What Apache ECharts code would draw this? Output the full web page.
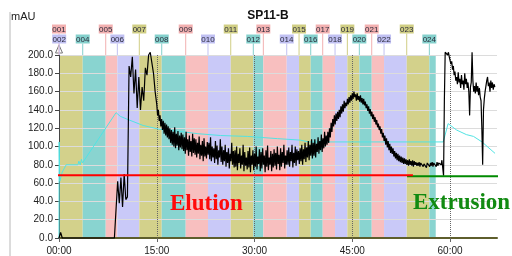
<!DOCTYPE html>
<html><head><meta charset="utf-8">
<script src="https://cdn.jsdelivr.net/npm/echarts@6/dist/echarts.min.js"></script>
<style>html,body{margin:0;padding:0;background:#fff}#c{width:512px;height:256px}</style>
</head><body><div id="c"></div>
<script>
// ---- data ----
const titleText = 'SP11-B';
const yUnit = 'mAU';
const fractionNames = ['001','002','003','004','005','006','007','008','009','010','011','012',
  '013','014','015','016','017','018','019','020','021','022','023','024'];
const fractionStarts = [0, 0.03, 0.06, 3.64, 7.17, 8.95, 12.32, 15.76, 19.44, 22.86, 26.35, 29.81,
  31.35, 34.94, 36.83, 38.62, 40.46, 42.35, 44.24, 46.08, 47.98, 49.87, 53.35, 56.82];
const fractionEnd = 57.80;
// UV trace, part A: 0:00 - 14:45, one reading every 0.25 min
const uvAStart = 0, uvAStep = 0.25;
const uvAValues = [
  0,6,0,0,0,0,0,0,0,0,0,0,0,0,0,0,0,0,0,0,
  0,0,0,0,0,0,0,0,0,0,0,0,0,0,0,0,62,38,66,34,
  70,42,45,188,176,198,158,184,142,176,140,165,150,186,178,200,203,203,180,160
];
// UV trace, part B: 15:00 - 58:52.5, one reading every 0.125 min
const uvBStart = 15, uvBStep = 0.125;
const uvBValues = [
  146,134,140,128,134,122,130,118,128,114,126,112,124,110,122,108,
  120,104,118,102,116,100,121,98,114,101,117,96,112,99,115,97,
  113,95,110,92,116,96,108,90,112,94,106,89,114,93,109,91,
  108,88,104,92,111,86,102,90,106,84,109,89,100,87,105,91,
  104,86,110,84,100,88,98,82,106,86,101,80,96,88,108,83,
  100,80,96,84,102,78,94,82,98,76,92,84,104,80,95,77,
  96,78,100,74,92,82,98,76,90,80,102,73,94,79,88,75,
  95,77,99,72,90,80,96,74,92,78,100,75,89,81,97,73,
  94,76,98,80,90,72,96,78,101,74,88,80,95,73,92,77,
  97,79,93,75,100,81,91,74,98,78,94,82,102,76,90,80,
  96,80,99,78,94,84,102,77,93,82,100,79,97,85,95,81,
  98,84,102,80,97,86,104,83,99,88,106,85,102,90,108,87,
  104,90,108,88,103,94,110,92,106,96,113,94,109,98,116,100,
  112,102,116,104,120,110,126,116,130,122,134,124,136,128,138,130,
  140,132,144,136,146,138,150,142,148,144,152,146,154,148,156,150,
  158,152,160,154,157,150,158,151,155,149,156,148,153,146,152,145,
  149,142,146,139,144,136,141,133,138,130,135,127,132,124,129,121,
  125,118,122,114,119,110,115,106,112,102,109,99,106,96,103,93,
  100,92,98,89,95,87,93,85,92,84,90,83,89,82,88,81,
  87,81,86,80,85,79,86,80,84,79,85,78,84,80,83,79,
  82,79,83,78,82,80,84,78,81,79,83,77,82,80,81,78,
  82,79,83,78,82,80,81,78,83,79,82,80,84,80,85,86
];
// UV trace, part C: 59:00 - 66:52.5 (extrusion), one reading every 0.125 min
const uvCStart = 59, uvCStep = 0.125;
const uvCValues = [
  68,150,203,203,203,200,203,198,
  196,190,193,184,188,178,182,172,
  176,168,181,170,174,164,178,168,
  172,162,180,168,174,164,170,160,
  134,165,170,203,172,160,166,158,
  170,160,166,156,164,154,150,120,
  80,140,152,160,166,172,176,166,
  170,160,172,164,170,162,168,165
];
const condTimes = [0, 0.02, 0.12, 0.5, 1.1, 2.9, 3.05, 3.25, 3.45, 3.6, 8.75, 9.4, 10.4, 12.9, 15.3,
  19.1, 21.3, 24.8, 28.9, 33.5, 37.0, 38.3, 58.95, 59.7, 61.0, 62.5, 63.6, 64.9, 66.9];
const condValues = [0, 105, 62, 72, 80, 80, 84, 80, 86, 82, 137, 133, 130, 123, 119,
  116, 114, 112, 111, 108.6, 107, 105, 105, 125, 118, 113, 111, 105, 92.5];
const elutionTimes = [-1.65, 54.3];
const elutionValues = [68.5, 68.5];
const extrusionTimes = [53.4, 67.6];
const extrusionValues = [67.5, 67.5];

// ---- styles ----
const bandColors = ['#f8bfbf', '#c9c9f8', '#d3d18b', '#89d4d0'];
const labelColors = ['#f2b0b0', '#c0c0f2', '#d0ce84', '#84d0cc'];

const uvData = []
  .concat(uvAValues.map((v, i) => [uvAStart + i * uvAStep, v]))
  .concat(uvBValues.map((v, i) => [uvBStart + i * uvBStep, v]))
  .concat(uvCValues.map((v, i) => [uvCStart + i * uvCStep, v]));
const condData = condTimes.map((t, i) => [t, condValues[i]]);
const bandData = fractionStarts.map((s, i) => [s, i + 1 < fractionStarts.length ? fractionStarts[i + 1] : fractionEnd, i % 4]);
// hide labels that collide with a previous label on the same row
const lastOnRow = [-99, -99];
const labelShown = fractionStarts.map((s, i) => {
  const r = i % 2;
  if (s - lastOnRow[r] < 1.5) return false;
  lastOnRow[r] = s; return true;
});
const labelData = fractionStarts.map((s, i) => [s, 200, i]);

const chart = echarts.init(document.getElementById('c'), null, {renderer: 'canvas'});
chart.setOption({
  animation: false,
  grid: {left: 59, right: 15, top: 55, bottom: 15, containLabel: false},
  xAxis: {
    type: 'value', min: 0, max: 67.2, interval: 15,
    axisLine: {show: true, lineStyle: {color: '#5e5e2c', width: 2}},
    axisTick: {show: true, length: 4, lineStyle: {color: '#666'}},
    axisLabel: {showMaxLabel: false, margin: 8, fontSize: 10, color: '#222', fontFamily: 'Liberation Sans',
      formatter: v => String(Math.round(v)).padStart(2, '0') + ':00'},
    splitLine: {show: true, showMaxLine: false, showMinLine: false, lineStyle: {type: 'dotted', color: '#666', width: 1}}
  },
  yAxis: {
    type: 'value', min: 0, max: 200, interval: 20,
    axisLine: {show: true, lineStyle: {color: '#444', width: 1}},
    axisTick: {show: true, length: 4, lineStyle: {color: '#444'}},
    axisLabel: {margin: 6, fontSize: 10, color: '#222', fontFamily: 'Liberation Sans',
      formatter: v => v.toFixed(1)},
    splitLine: {show: true, lineStyle: {color: '#dcdcdc', width: 1}}
  },
  graphic: [
    {type: 'line', shape: {x1: 10, y1: 12, x2: 10, y2: 256}, style: {stroke: '#b8b8b8', lineWidth: 1}},
    {type: 'text', style: {text: yUnit, x: 11, y: 17, verticalAlign: 'middle', font: '11px "Liberation Sans"', fill: '#222'}},
    {type: 'text', style: {text: titleText, x: 268, y: 16, align: 'center', verticalAlign: 'middle', font: 'bold 12px "Liberation Sans"', fill: '#111'}},
    {type: 'polygon', shape: {points: [[55.5, 53], [59, 45], [62.5, 53]]}, style: {fill: '#fff', stroke: '#777', lineWidth: 1}},
    {type: 'text', z: 10, style: {text: 'Elution', x: 170, y: 204, verticalAlign: 'middle', font: 'bold 23px "Liberation Serif"', fill: '#ff0a0a'}},
    {type: 'text', z: 10, style: {text: 'Extrusion', x: 413, y: 203, verticalAlign: 'middle', font: 'bold 23px "Liberation Serif"', fill: '#118a11'}}
  ],
  series: [
    {
      type: 'custom', z: -1, silent: true, clip: true,
      data: bandData, encode: {x: [0, 1]},
      renderItem: (params, api) => {
        const p0 = api.coord([api.value(0), 200]);
        const p1 = api.coord([api.value(1), 0]);
        return {type: 'rect', shape: {x: p0[0], y: p0[1], width: p1[0] - p0[0], height: p1[1] - p0[1]},
          style: {fill: bandColors[api.value(2)]}};
      }
    },
    {
      type: 'custom', z: 1, silent: true, clip: false,
      data: labelData, encode: {x: 0, y: 1},
      renderItem: (params, api) => {
        const idx = api.value(2);
        if (!labelShown[idx]) return null;
        const p = api.coord([api.value(0), 200]);
        const x = p[0], top = p[1];
        const cy = top - (idx % 2 === 0 ? 26 : 16);
        const w = 14, h = 9;
        const c = labelColors[idx % 4];
        return {type: 'group', children: [
          {type: 'line', shape: {x1: x, y1: cy + h / 2, x2: x, y2: top}, style: {stroke: c, lineWidth: 1}},
          {type: 'rect', shape: {x: x - w / 2, y: cy - h / 2, width: w, height: h}, style: {fill: c}},
          {type: 'text', style: {text: fractionNames[idx], x: x, y: cy + 0.5, align: 'center', verticalAlign: 'middle',
            font: '8px "Liberation Sans"', fill: '#2a2a3a'}}
        ]};
      }
    },
    {type: 'line', data: condData, showSymbol: false, symbol: 'none', z: 3,
      lineStyle: {color: '#52e3e3', width: 1}},
    {type: 'line', data: uvData, showSymbol: false, symbol: 'none', z: 4, clip: false,
      lineStyle: {color: '#000', width: 1.2}},
    {type: 'line', data: extrusionTimes.map((t, i) => [t, extrusionValues[i]]), showSymbol: false, symbol: 'none', z: 5, clip: false,
      lineStyle: {color: '#008a00', width: 2}},
    {type: 'line', data: elutionTimes.map((t, i) => [t, elutionValues[i]]), showSymbol: false, symbol: 'none', z: 6, clip: false,
      lineStyle: {color: '#ff0000', width: 2}}
  ]
});
</script></body></html>
